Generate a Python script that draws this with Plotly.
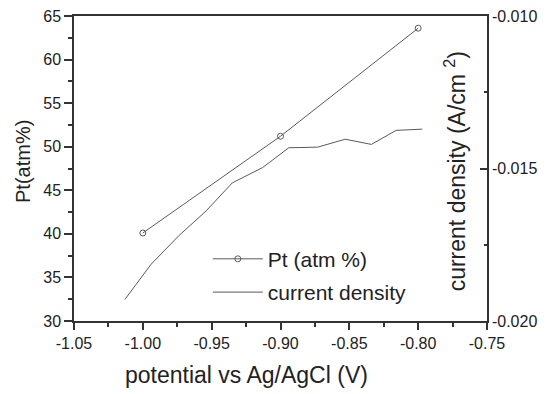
import plotly.graph_objects as go

# Data
pt_potential = [-1.00, -0.90, -0.80]
pt_atm = [40.1, 51.2, 63.6]

cd_potential = [-1.013, -0.994, -0.974, -0.954, -0.935, -0.913, -0.894, -0.873, -0.853, -0.834, -0.816, -0.797]
cd_values = [-0.01929, -0.01814, -0.01721, -0.01639, -0.01547, -0.01497, -0.01432, -0.01430, -0.01404, -0.01421, -0.01375, -0.01371]

x_tickvals = [-1.05, -1.00, -0.95, -0.90, -0.85, -0.80, -0.75]
x_ticktext = ["-1.05", "-1.00", "-0.95", "-0.90", "-0.85", "-0.80", "-0.75"]
y_tickvals = [30, 35, 40, 45, 50, 55, 60, 65]
y2_tickvals = [-0.020, -0.015, -0.010]
y2_ticktext = ["-0.020", "-0.015", "-0.010"]

FONT = "Liberation Sans, Arial, sans-serif"
LINE = "#5a5a5a"
AX = "#333333"
TXT = "#222222"

fig = go.Figure()
fig.add_trace(go.Scatter(
    x=pt_potential, y=pt_atm, name="Pt (atm %)", mode="lines+markers",
    legendgroup="a",
    line=dict(color=LINE, width=1),
    marker=dict(symbol="circle-open", size=6, color=LINE, line=dict(width=1, color=LINE)),
    yaxis="y"))
fig.add_trace(go.Scatter(
    x=cd_potential, y=cd_values, name="current density", mode="lines",
    legendgroup="b",
    line=dict(color=LINE, width=1), yaxis="y2"))

fig.update_layout(
    width=551, height=394,
    margin=dict(l=74, r=63.5, t=15.5, b=73, autoexpand=False),
    paper_bgcolor="white", plot_bgcolor="white",
    font=dict(family=FONT, size=16, color=TXT),
    showlegend=True,
    legend=dict(x=0.324, y=0.27, xanchor="left", yanchor="top",
                bgcolor="rgba(0,0,0,0)", borderwidth=0,
                font=dict(size=21, color=TXT), tracegroupgap=3,
                itemwidth=50),
    xaxis=dict(range=[-1.05, -0.75], tickvals=x_tickvals, ticktext=x_ticktext,
               automargin=False,
               showgrid=False, zeroline=False, showline=True, linecolor=AX, linewidth=1.5,
               mirror=True, ticks="outside", ticklen=7, tickcolor=AX, tickwidth=1.5,
               minor=dict(dtick=0.025, ticks="outside", ticklen=4, tickcolor=AX, tickwidth=1.5),
               tickfont=dict(size=16, color=TXT)),
    yaxis=dict(range=[30, 65], tickvals=y_tickvals, automargin=False,
               showgrid=False, zeroline=False, showline=True, linecolor=AX, linewidth=1.5,
               ticks="outside", ticklen=8, tickcolor=AX, tickwidth=1.5,
               minor=dict(dtick=2.5, ticks="outside", ticklen=4, tickcolor=AX, tickwidth=1.5),
               tickfont=dict(size=16, color=TXT)),
    yaxis2=dict(range=[-0.020, -0.010], tickvals=y2_tickvals, ticktext=y2_ticktext,
                overlaying="y", side="right", automargin=False,
                showgrid=False, zeroline=False, showline=True, linecolor=AX, linewidth=1.5,
                ticks="inside", ticklen=7, tickcolor=AX, tickwidth=1.5,
                minor=dict(dtick=0.0025, ticks="inside", ticklen=3, tickcolor=AX, tickwidth=1.5),
                tickfont=dict(size=16, color=TXT)),
    annotations=[
        dict(text="potential vs Ag/AgCl (V)", xref="paper", yref="paper",
             x=0.417, y=-0.177, xanchor="center", yanchor="middle", showarrow=False,
             font=dict(size=23, color=TXT)),
        dict(text="Pt(atm%)", xref="paper", yref="paper",
             x=-0.123, y=0.522, xanchor="center", yanchor="middle", showarrow=False,
             textangle=-90, font=dict(size=20, color=TXT)),
        dict(text="current density (A/cm <sup>2</sup>)", xref="paper", yref="paper",
             x=0.922, y=0.49, xanchor="center", yanchor="middle", showarrow=False,
             textangle=-90, font=dict(size=23, color=TXT)),
    ],
)

fig.write_html("out.html", config={"displayModeBar": False},
               post_script="document.body.style.margin='0';document.body.style.padding='0';")
